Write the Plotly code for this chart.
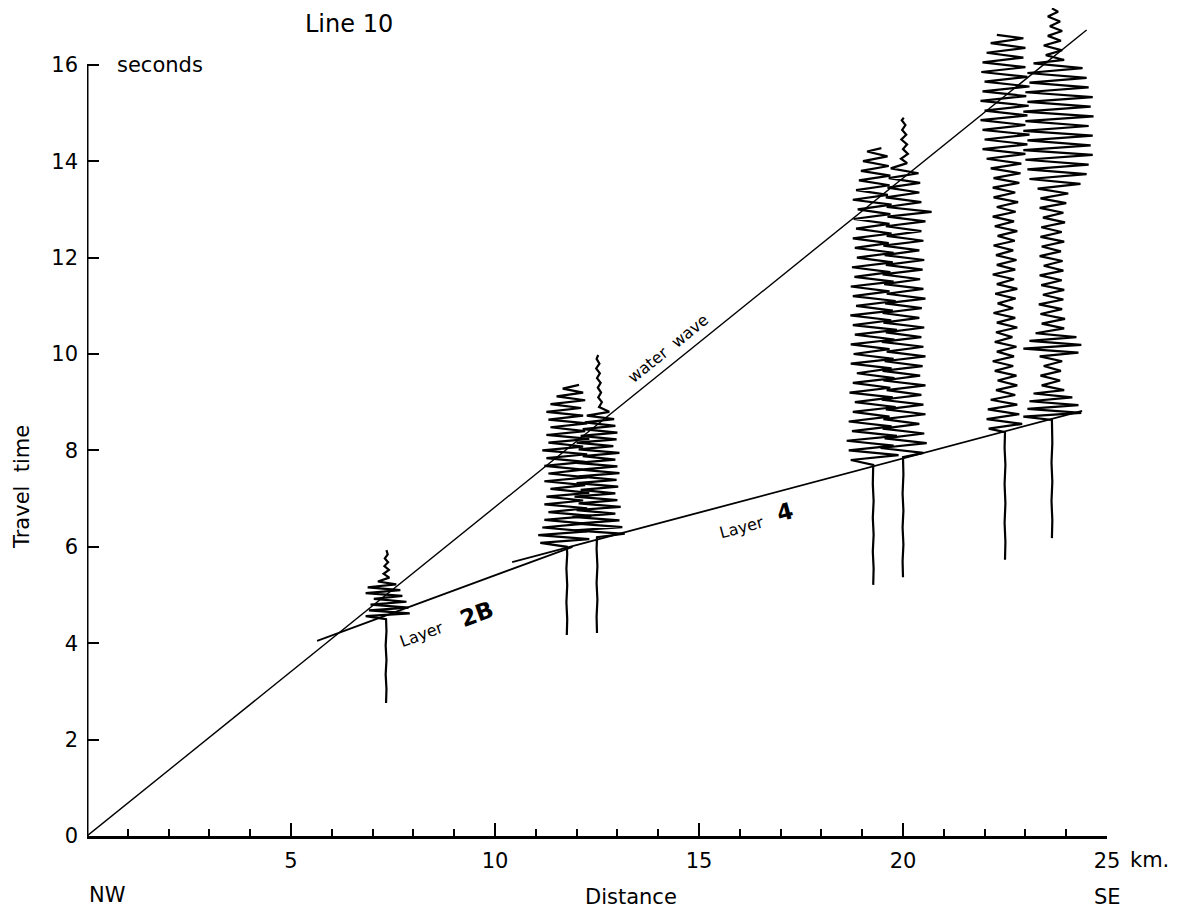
import plotly.graph_objects as go

# ---------------- data ----------------
x_tickvals = [5, 10, 15, 20, 25]
x_ticktext = ["5", "10", "15", "20", "25"]
y_tickvals = [0, 2, 4, 6, 8, 10, 12, 14, 16]
y_ticktext = ["0", "2", "4", "6", "8", "10", "12", "14", "16"]

# straight travel-time lines (distance km, time s)
water_x = [0.0, 24.5]
water_t = [0.0, 16.72]
layer2b_x = [5.64, 11.9]
layer2b_t = [4.05, 6.00]
layer4_x = [10.42, 24.39]
layer4_t = [5.68, 8.82]

# seismogram traces: station distance (km) and (time s, deflection km) pairs
trace_positions = [7.33, 11.76, 12.50, 19.27, 20.00, 22.50, 23.65]

trace_A = [(2.76, 0.0), (3.05, 0.01), (3.35, -0.01), (3.65, 0.01), (3.95, -0.01), (4.25, 0.01),
           (4.50, 0.0), (4.56, -0.50), (4.62, 0.58), (4.68, -0.42), (4.74, 0.55), (4.80, -0.38),
           (4.86, 0.50), (4.92, -0.30), (4.98, 0.40), (5.04, -0.50), (5.10, 0.35), (5.16, -0.45),
           (5.22, 0.25), (5.28, -0.20), (5.36, 0.08), (5.44, -0.06), (5.52, 0.07), (5.60, -0.04),
           (5.68, 0.05), (5.76, -0.03), (5.84, 0.04), (5.93, 0.01)]

trace_B = [(4.17, 0.0), (4.50, 0.01), (4.85, -0.01), (5.20, 0.01), (5.55, -0.01), (5.85, 0.01), (6.00, 0.0),
           (6.08, -0.65), (6.16, 0.55), (6.24, -0.70), (6.32, 0.50), (6.40, -0.60), (6.48, 0.45),
           (6.56, -0.55), (6.64, 0.60), (6.72, -0.45), (6.80, 0.50), (6.88, -0.55), (6.96, 0.40),
           (7.04, -0.50), (7.12, 0.55), (7.20, -0.40), (7.28, 0.45), (7.36, -0.55), (7.44, 0.50),
           (7.52, -0.45), (7.60, 0.40), (7.68, -0.55), (7.76, 0.45), (7.84, -0.50), (7.92, 0.50),
           (8.00, -0.60), (8.08, 0.40), (8.16, -0.45), (8.24, 0.55), (8.32, -0.50), (8.40, 0.45),
           (8.48, -0.40), (8.56, 0.50), (8.64, -0.45), (8.72, 0.40), (8.80, -0.50), (8.88, 0.35),
           (8.96, -0.40), (9.04, 0.45), (9.12, -0.25), (9.20, 0.40), (9.28, -0.10), (9.36, 0.30)]

trace_C = [(4.21, 0.0), (4.55, -0.01), (4.90, 0.01), (5.25, -0.01), (5.60, 0.01), (5.95, -0.01), (6.20, 0.0),
           (6.27, 0.68), (6.34, -0.55), (6.41, 0.62), (6.48, -0.50), (6.55, 0.55), (6.62, -0.60),
           (6.69, 0.45), (6.76, -0.50), (6.83, 0.58), (6.90, -0.45), (6.97, 0.50), (7.04, -0.55),
           (7.11, 0.45), (7.18, -0.40), (7.25, 0.52), (7.32, -0.50), (7.39, 0.48), (7.46, -0.45),
           (7.53, 0.55), (7.60, -0.40), (7.67, 0.50), (7.74, -0.50), (7.81, 0.45), (7.88, -0.35),
           (7.95, 0.55), (8.02, -0.45), (8.09, 0.40), (8.16, -0.50), (8.23, 0.48), (8.30, -0.40),
           (8.37, 0.50), (8.44, -0.35), (8.51, 0.45), (8.58, -0.30), (8.65, 0.42), (8.72, -0.25),
           (8.80, 0.30), (8.90, 0.05), (9.00, 0.12), (9.10, 0.03), (9.20, 0.10), (9.30, 0.02),
           (9.40, 0.09), (9.50, 0.00), (9.60, 0.07), (9.70, -0.02), (9.80, 0.06), (9.90, -0.01), (9.98, 0.03)]

trace_D = [(5.21, 0.0), (5.55, 0.01), (5.90, -0.01), (6.25, 0.01), (6.60, -0.01), (6.95, 0.01), (7.30, -0.01), (7.70, 0.0),
           (7.80, -0.55), (7.90, 0.62), (8.00, -0.60), (8.10, 0.50), (8.20, -0.65), (8.30, 0.58),
           (8.40, -0.52), (8.50, 0.45), (8.60, -0.60), (8.70, 0.40), (8.80, -0.50), (8.90, 0.55),
           (9.00, -0.45), (9.10, 0.48), (9.20, -0.58), (9.30, 0.42), (9.40, -0.50), (9.50, 0.52),
           (9.60, -0.40), (9.70, 0.45), (9.80, -0.55), (9.90, 0.50), (10.00, -0.48), (10.10, 0.40),
           (10.20, -0.55), (10.30, 0.52), (10.40, -0.45), (10.50, 0.58), (10.60, -0.50), (10.70, 0.44),
           (10.80, -0.56), (10.90, 0.48), (11.00, -0.42), (11.10, 0.55), (11.20, -0.50), (11.30, 0.40),
           (11.40, -0.55), (11.50, 0.50), (11.60, -0.46), (11.70, 0.42), (11.80, -0.52), (11.90, 0.48),
           (12.00, -0.40), (12.10, 0.50), (12.20, -0.45), (12.30, 0.38), (12.40, -0.50), (12.50, 0.45),
           (12.60, -0.42), (12.70, 0.40), (12.80, -0.48), (12.90, 0.42), (13.00, -0.38), (13.10, 0.45),
           (13.20, -0.50), (13.30, 0.36), (13.40, -0.42), (13.50, 0.40), (13.60, -0.35), (13.70, 0.42),
           (13.80, -0.30), (13.90, 0.38), (14.00, -0.25), (14.10, 0.35), (14.20, -0.15), (14.27, 0.20)]

trace_E = [(5.37, 0.0), (5.70, -0.01), (6.05, 0.01), (6.40, -0.01), (6.75, 0.01), (7.10, -0.01), (7.50, 0.01), (7.86, 0.0),
           (7.95, 0.50), (8.05, -0.55), (8.15, 0.58), (8.25, -0.45), (8.35, 0.52), (8.45, -0.50),
           (8.55, 0.40), (8.65, -0.48), (8.75, 0.55), (8.85, -0.42), (8.95, 0.50), (9.05, -0.52),
           (9.15, 0.45), (9.25, -0.40), (9.35, 0.55), (9.45, -0.48), (9.55, 0.42), (9.65, -0.50),
           (9.75, 0.48), (9.85, -0.45), (9.95, 0.55), (10.05, -0.40), (10.15, 0.50), (10.25, -0.52),
           (10.35, 0.45), (10.45, -0.42), (10.55, 0.52), (10.65, -0.48), (10.75, 0.40), (10.85, -0.50),
           (10.95, 0.46), (11.05, -0.44), (11.15, 0.55), (11.25, -0.40), (11.35, 0.50), (11.45, -0.46),
           (11.55, 0.42), (11.65, -0.50), (11.75, 0.48), (11.85, -0.42), (11.95, 0.52), (12.05, -0.45),
           (12.15, 0.40), (12.25, -0.48), (12.35, 0.50), (12.45, -0.40), (12.55, 0.45), (12.65, -0.42),
           (12.75, 0.55), (12.85, -0.38), (12.95, 0.70), (13.05, -0.40), (13.15, 0.45), (13.25, -0.42),
           (13.35, 0.40), (13.45, -0.38), (13.55, 0.42), (13.65, -0.35), (13.75, 0.38), (13.85, -0.30),
           (13.96, 0.10), (14.05, -0.05), (14.15, 0.12), (14.25, 0.00), (14.35, 0.10), (14.45, -0.04),
           (14.55, 0.08), (14.65, -0.02), (14.75, 0.06), (14.85, -0.03), (14.90, 0.02)]

trace_F = [(5.73, 0.0), (6.10, 0.01), (6.50, -0.01), (6.90, 0.01), (7.30, -0.01), (7.70, 0.01), (8.05, -0.01), (8.38, 0.0),
           (8.45, -0.40), (8.55, 0.42), (8.65, -0.45), (8.75, 0.35), (8.85, -0.42), (8.95, 0.30), (9.05, -0.35),
           (9.15, 0.25), (9.25, -0.22), (9.35, 0.30), (9.45, -0.18), (9.55, 0.28), (9.65, -0.25),
           (9.75, 0.20), (9.85, -0.30), (9.95, 0.22), (10.05, -0.20), (10.15, 0.28), (10.25, -0.25),
           (10.35, 0.18), (10.45, -0.22), (10.55, 0.30), (10.65, -0.20), (10.75, 0.25), (10.85, -0.28),
           (10.95, 0.20), (11.05, -0.18), (11.15, 0.26), (11.25, -0.24), (11.35, 0.30), (11.45, -0.20),
           (11.55, 0.22), (11.65, -0.30), (11.75, 0.25), (11.85, -0.20), (11.95, 0.28), (12.05, -0.22),
           (12.15, 0.20), (12.25, -0.28), (12.35, 0.24), (12.45, -0.18), (12.55, 0.30), (12.65, -0.25),
           (12.75, 0.22), (12.85, -0.30), (12.95, 0.26), (13.05, -0.20), (13.15, 0.32), (13.25, -0.28),
           (13.35, 0.25), (13.45, -0.30), (13.55, 0.35), (13.65, -0.28), (13.75, 0.38), (13.85, -0.35),
           (13.95, 0.40), (14.05, -0.45), (14.15, 0.50), (14.25, -0.55), (14.35, 0.55), (14.45, -0.50),
           (14.55, 0.60), (14.65, -0.55), (14.75, 0.50), (14.85, -0.60), (14.95, 0.55), (15.05, -0.50),
           (15.15, 0.58), (15.25, -0.60), (15.35, 0.52), (15.45, -0.55), (15.55, 0.60), (15.65, -0.50),
           (15.75, 0.55), (15.85, -0.58), (15.95, 0.50), (16.05, -0.55), (16.15, 0.45), (16.25, -0.45),
           (16.35, 0.50), (16.45, -0.35), (16.55, 0.45), (16.62, -0.20)]

trace_G = [(6.18, 0.0), (6.55, 0.01), (6.95, -0.01), (7.35, 0.01), (7.75, -0.01), (8.15, 0.01), (8.63, 0.0),
           (8.70, -0.70), (8.78, 0.72), (8.86, -0.60), (8.94, 0.65), (9.02, -0.55), (9.10, 0.50),
           (9.18, -0.45), (9.25, 0.30), (9.35, -0.25), (9.45, 0.20), (9.55, -0.28), (9.65, 0.22),
           (9.75, -0.20), (9.85, 0.25), (9.95, -0.30), (10.03, 0.65), (10.11, -0.70), (10.19, 0.72),
           (10.27, -0.55), (10.35, 0.60), (10.43, -0.40), (10.53, 0.30), (10.63, -0.25), (10.73, 0.32),
           (10.83, -0.28), (10.93, 0.25), (11.03, -0.32), (11.13, 0.28), (11.23, -0.22), (11.33, 0.30),
           (11.43, -0.26), (11.53, 0.24), (11.63, -0.30), (11.73, 0.28), (11.83, -0.20), (11.93, 0.26),
           (12.03, -0.30), (12.13, 0.22), (12.23, -0.25), (12.33, 0.30), (12.43, -0.28), (12.53, 0.24),
           (12.63, -0.26), (12.73, 0.32), (12.83, -0.22), (12.93, 0.28), (13.03, -0.30), (13.13, 0.35),
           (13.23, -0.28), (13.33, 0.40), (13.43, -0.35), (13.53, 0.70), (13.63, -0.55), (13.73, 0.85),
           (13.83, -0.60), (13.93, 0.90), (14.03, -0.65), (14.13, 1.00), (14.23, -0.70), (14.33, 0.95),
           (14.43, -0.60), (14.53, 1.00), (14.63, -0.70), (14.73, 0.90), (14.83, -0.65), (14.93, 1.02),
           (15.03, -0.70), (15.13, 0.95), (15.23, -0.60), (15.33, 1.00), (15.43, -0.65), (15.53, 0.90),
           (15.63, -0.55), (15.73, 0.85), (15.83, -0.60), (15.93, 0.75), (16.03, -0.45), (16.10, 0.30),
           (16.20, -0.15), (16.30, 0.25), (16.40, -0.20), (16.50, 0.22), (16.60, -0.10), (16.70, 0.25),
           (16.80, -0.05), (16.90, 0.20), (17.00, -0.10), (17.10, 0.15), (17.17, 0.0)]

traces = [trace_A, trace_B, trace_C, trace_D, trace_E, trace_F, trace_G]

# ---------------- figure ----------------
FONT = "DejaVu Sans"
fig = go.Figure()

for pos, tr in zip(trace_positions, traces):
    fig.add_trace(go.Scatter(
        x=[pos + d for _, d in tr], y=[t for t, _ in tr],
        mode="lines", line=dict(color="black", width=2.2),
        hoverinfo="skip", showlegend=False))

for xs, ts, w in [(water_x, water_t, 1.4), (layer2b_x, layer2b_t, 1.8), (layer4_x, layer4_t, 1.8)]:
    fig.add_trace(go.Scatter(x=xs, y=ts, mode="lines",
                             line=dict(color="black", width=w),
                             hoverinfo="skip", showlegend=False))

# y axis line stops at 16 s
fig.add_shape(type="line", xref="x", yref="y", x0=0, y0=0, x1=0, y1=16,
              line=dict(color="black", width=3))

ann_font = dict(family=FONT, size=21, color="black")
small_font = dict(family=FONT, size=16, color="black")
annotations = [
    # inside the data area (data coordinates)
    dict(text="Line 10", x=6.42, y=16.84, xref="x", yref="y", font=dict(family=FONT, size=24, color="black")),
    dict(text="seconds", x=0.69, y=16.0, xref="x", yref="y", xanchor="left", font=ann_font),
    dict(text="water  wave", x=14.24, y=10.12, xref="x", yref="y", textangle=-39, font=small_font),
    dict(text="Layer", x=8.19, y=4.19, xref="x", yref="y", textangle=-20, font=small_font),
    dict(text="<b>2B</b>", x=9.56, y=4.61, xref="x", yref="y", textangle=-20,
         font=dict(family=FONT, size=23, color="black")),
    dict(text="Layer", x=16.03, y=6.41, xref="x", yref="y", textangle=-15, font=small_font),
    dict(text="<b>4</b>", x=17.1, y=6.72, xref="x", yref="y", textangle=-15,
         font=dict(family=FONT, size=23, color="black")),
    # outside the data area (paper coordinates)
    dict(text="Travel  time", x=-0.0637, y=0.4215, xref="paper", yref="paper", textangle=-90, font=ann_font),
    dict(text="Distance", x=0.5333, y=-0.0737, xref="paper", yref="paper", font=ann_font),
    dict(text="NW", x=0.0, y=-0.0713, xref="paper", yref="paper", xanchor="left", font=ann_font),
    dict(text="SE", x=1.0, y=-0.0737, xref="paper", yref="paper", font=ann_font),
    dict(text="km.", x=1.0206, y=-0.029, xref="paper", yref="paper", xanchor="left", font=ann_font),
]
for a in annotations:
    a["showarrow"] = False
    a.setdefault("xanchor", "center")
    a.setdefault("yanchor", "middle")
    fig.add_annotation(**a)

# page has an 8 px body margin: figure is placed so the plot area sits at
# page x 87..1107, y 8..836
fig.update_layout(
    width=1163, height=906,
    margin=dict(l=79, r=64, t=0, b=78, pad=0, autoexpand=False),
    paper_bgcolor="white", plot_bgcolor="white",
    font=dict(family=FONT, size=21, color="black"),
    showlegend=False,
)
fig.update_xaxes(
    range=[0, 25], showgrid=False, zeroline=False,
    showline=True, linecolor="black", linewidth=3,
    ticks="inside", ticklen=13, tickwidth=2, tickcolor="black",
    tickvals=x_tickvals, ticktext=x_ticktext,
    tickfont=dict(family=FONT, size=21, color="black"),
    ticklabelstandoff=4,
    minor=dict(ticks="inside", ticklen=7, tickwidth=2, tickcolor="black", dtick=1, tick0=0, showgrid=False),
)
fig.update_yaxes(
    range=[0, 17.178], showgrid=False, zeroline=False, showline=False,
    ticks="inside", ticklen=12, tickwidth=2, tickcolor="black",
    tickvals=y_tickvals, ticktext=y_ticktext,
    tickfont=dict(family=FONT, size=21, color="black"),
    ticklabelstandoff=8,
)

fig.write_html("out.html", config={"displayModeBar": False})
